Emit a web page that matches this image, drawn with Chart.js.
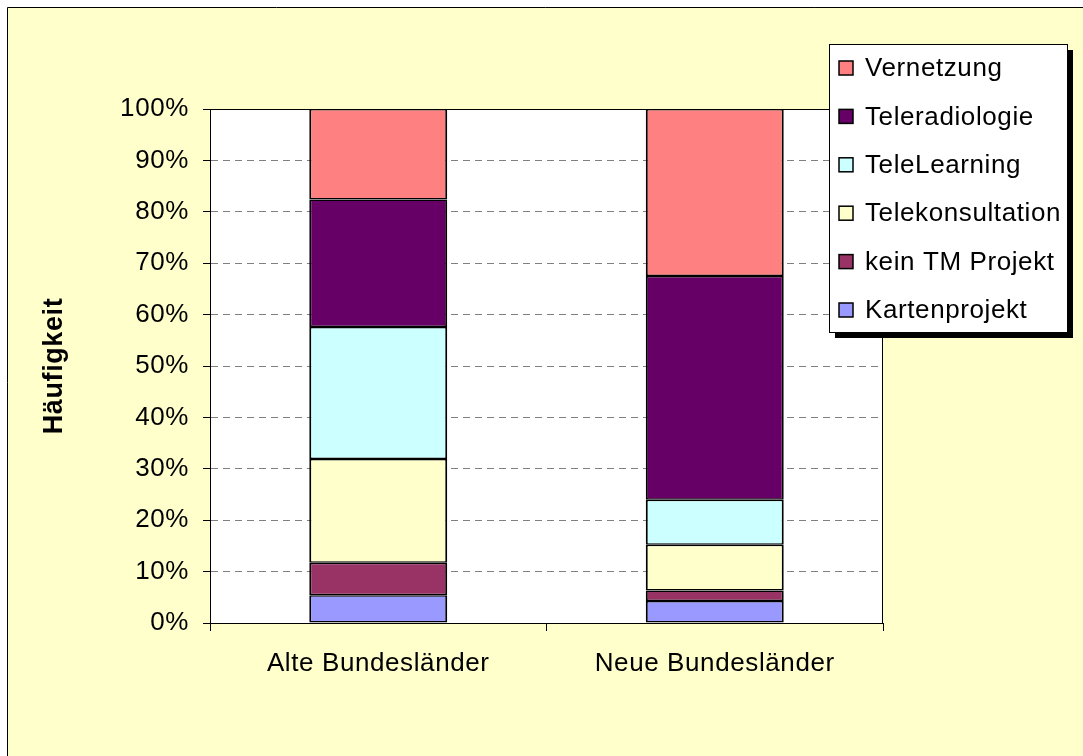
<!DOCTYPE html>
<html>
<head>
<meta charset="utf-8">
<script src="https://cdn.jsdelivr.net/npm/chart.js@4/dist/chart.umd.min.js"></script>
<style>
  html, body { margin: 0; padding: 0; background: #ffffff; }
  #wrap { width: 1083px; height: 756px; position: relative; }
</style>
</head>
<body>
<div id="wrap"><canvas id="haeufigkeitChart" width="1083" height="756"></canvas></div>
<script>
// categories and stacked shares (percent)
var categories = ['Alte Bundesländer', 'Neue Bundesländer'];
var kartenprojekt = [5.4, 4.3];
var keinTM = [6.3, 2.0];
var telekonsultation = [20.2, 8.9];
var teleLearning = [25.7, 8.8];
var teleradiologie = [24.8, 43.5];
var vernetzung = [17.6, 32.5];
var yTicks = [0, 10, 20, 30, 40, 50, 60, 70, 80, 90, 100];

var FONT = '"Liberation Sans", Arial, sans-serif';

// yellow frame behind everything, black frame round the plot
var framePlugin = {
    id: 'frame',
    beforeDraw: function (chart) {
        var c = chart.ctx;
        c.letterSpacing = '0.6px'; // Excel text runs a bit wider
        c.save();
        c.fillStyle = '#ffffff';
        c.fillRect(0, 0, chart.width, chart.height);
        c.fillStyle = '#FFFFCC';
        c.fillRect(7, 7, chart.width, chart.height);
        c.strokeStyle = '#000000';
        c.lineWidth = 1;
        c.beginPath();
        c.moveTo(7.5, chart.height + 5);
        c.lineTo(7.5, 7.5);
        c.lineTo(chart.width + 5, 7.5);
        c.stroke();
        var a = chart.chartArea;
        c.fillStyle = '#ffffff';
        c.fillRect(a.left, a.top, a.right - a.left, a.bottom - a.top);
        c.restore();
    },
    afterDatasetsDraw: function (chart) {
        var a = chart.chartArea;
        var c = chart.ctx;
        c.save();
        c.strokeStyle = '#000000';
        c.lineWidth = 1;
        c.strokeRect(a.left + 0.5, a.top + 0.5, a.right - a.left - 1, a.bottom - a.top);
        c.restore();
    }
};

// boxed legend with shadow, top to bottom in reverse stacking order
var boxLegend = {
    id: 'boxLegend',
    afterDraw: function (chart) {
        var c = chart.ctx;
        var x = 829, y = 44, w = 238, h = 288;
        c.save();
        c.fillStyle = '#000000';
        c.fillRect(x + 6, y + 6, w, h);
        c.fillStyle = '#ffffff';
        c.fillRect(x, y, w, h);
        c.strokeStyle = '#000000';
        c.lineWidth = 1;
        c.strokeRect(x + 0.5, y + 0.5, w, h);
        var sets = chart.data.datasets.slice().reverse();
        c.font = '26px ' + FONT;
        c.textBaseline = 'middle';
        sets.forEach(function (ds, i) {
            var cy = 68 + i * 48.4;
            c.fillStyle = ds.backgroundColor;
            c.fillRect(839, cy - 7, 14, 14);
            c.lineWidth = 1.5;
            c.strokeStyle = '#000000';
            c.strokeRect(839, cy - 7, 14, 14);
            c.fillStyle = '#000000';
            c.fillText(ds.label, 865, cy + 1);
        });
        c.restore();
    }
};

function makeSet(label, data, color) {
    return {
        label: label,
        data: data,
        backgroundColor: color,
        borderColor: '#000000',
        borderWidth: { top: 1.5, bottom: 1.5, left: 2, right: 2 },
        borderSkipped: false,
        categoryPercentage: 1.0,
        barPercentage: 0.41
    };
}

var ctx = document.getElementById('haeufigkeitChart').getContext('2d');
var chart = new Chart(ctx, {
    type: 'bar',
    data: {
        labels: categories,
        datasets: [
            makeSet('Kartenprojekt', kartenprojekt, '#9999FF'),
            makeSet('kein TM Projekt', keinTM, '#993366'),
            makeSet('Telekonsultation', telekonsultation, '#FFFFCC'),
            makeSet('TeleLearning', teleLearning, '#CCFFFF'),
            makeSet('Teleradiologie', teleradiologie, '#660066'),
            makeSet('Vernetzung', vernetzung, '#FF8080')
        ]
    },
    options: {
        responsive: false,
        animation: false,
        layout: { padding: { left: 8, top: 109, right: 200, bottom: 0 } },
        plugins: {
            legend: { display: false },
            tooltip: { enabled: false }
        },
        scales: {
            x: {
                stacked: true,
                grid: {
                    offset: true,
                    drawOnChartArea: false,
                    tickLength: 8,
                    tickColor: '#000000'
                },
                border: { display: true, color: '#000000' },
                ticks: {
                    color: '#000000',
                    padding: 17,
                    font: { family: FONT, size: 26 }
                },
                afterFit: function (scale) { scale.height = 756 - 623; }
            },
            y: {
                stacked: true,
                min: 0,
                max: 100,
                afterBuildTicks: function (scale) {
                    scale.ticks = yTicks.map(function (v) { return { value: v }; });
                },
                grid: {
                    color: '#808080',
                    tickColor: '#000000',
                    tickLength: 7,
                    tickBorderDash: []
                },
                border: { display: true, color: '#000000', dash: [7, 5] },
                ticks: {
                    color: '#000000',
                    padding: 14,
                    font: { family: FONT, size: 26 },
                    callback: function (v) { return v + '%'; }
                },
                title: {
                    display: true,
                    text: 'Häufigkeit',
                    color: '#000000',
                    padding: { top: 30, bottom: 0 },
                    font: { family: FONT, size: 27, weight: 'bold' }
                },
                afterFit: function (scale) { scale.width = 210 - 8; }
            }
        }
    },
    plugins: [framePlugin, boxLegend]
});
</script>
</body>
</html>
